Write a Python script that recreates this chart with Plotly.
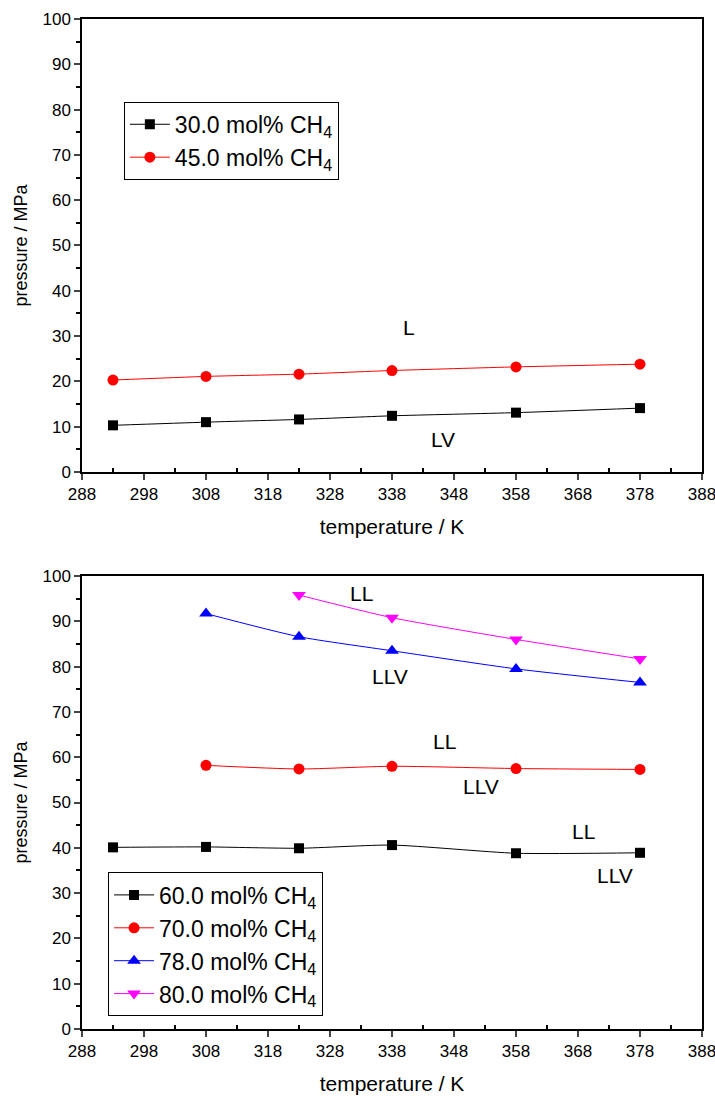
import plotly.graph_objects as go

# Temperatures (K) of the measured points
t_30 = [293, 308, 323, 338, 358, 378]
t_45 = [293, 308, 323, 338, 358, 378]
t_60 = [293, 308, 323, 338, 358, 378]
t_70 = [308, 323, 338, 358, 378]
t_78 = [308, 323, 338, 358, 378]
t_80 = [323, 338, 358, 378]

# Pressures (MPa)
p_30 = [10.3, 11.0, 11.6, 12.4, 13.1, 14.1]
p_45 = [20.3, 21.1, 21.6, 22.4, 23.2, 23.8]
p_60 = [40.1, 40.2, 39.9, 40.6, 38.8, 38.9]
p_70 = [58.2, 57.4, 58.0, 57.5, 57.3]
p_78 = [91.7, 86.6, 83.5, 79.5, 76.5]
p_80 = [95.8, 90.8, 86.0, 81.7]

# Phase-region labels: (text, T, p)
top_labels = [("L", 340.7, 32.0), ("LV", 346.2, 7.1)]
bottom_labels = [("LL", 333.0, 96.2), ("LLV", 337.7, 77.9),
                 ("LL", 346.4, 63.4), ("LLV", 352.3, 53.6),
                 ("LL", 368.9, 43.7), ("LLV", 373.9, 33.8)]

FONT = "Liberation Sans, Arial, sans-serif"

fig = go.Figure()


def series(x, y, name, color, symbol, size, xa, ya, legend):
    fig.add_trace(go.Scatter(
        x=x, y=y, name=name, mode="lines+markers",
        line=dict(color=color, width=1, shape="spline", smoothing=0.6),
        marker=dict(color=color, symbol=symbol, size=size),
        xaxis=xa, yaxis=ya, legend=legend))


series(t_30, p_30, "30.0 mol% CH<sub>4</sub>", "black", "square", 10, "x", "y", "legend")
series(t_45, p_45, "45.0 mol% CH<sub>4</sub>", "red", "circle", 11, "x", "y", "legend")
series(t_60, p_60, "60.0 mol% CH<sub>4</sub>", "black", "square", 10, "x2", "y2", "legend2")
series(t_70, p_70, "70.0 mol% CH<sub>4</sub>", "red", "circle", 11, "x2", "y2", "legend2")
series(t_78, p_78, "78.0 mol% CH<sub>4</sub>", "blue", "triangle-up", 12, "x2", "y2", "legend2")
series(t_80, p_80, "80.0 mol% CH<sub>4</sub>", "magenta", "triangle-down", 12, "x2", "y2", "legend2")

annotations = []
for txt, tx, py in top_labels:
    annotations.append(dict(x=tx, y=py, xref="x", yref="y", text=txt, showarrow=False,
                            font=dict(family=FONT, size=21, color="black")))
for txt, tx, py in bottom_labels:
    annotations.append(dict(x=tx, y=py, xref="x2", yref="y2", text=txt, showarrow=False,
                            font=dict(family=FONT, size=21, color="black")))

xcommon = dict(range=[288, 388], tick0=288, dtick=10, ticks="outside", ticklen=6,
               tickwidth=1.5, showline=True, linewidth=1.5, linecolor="black",
               mirror=True, showgrid=False, zeroline=False, automargin=False,
               ticklabeloverflow="allow",
               tickfont=dict(family=FONT, size=17, color="black"),
               minor=dict(tick0=293, dtick=10, ticks="inside", ticklen=4,
                          tickwidth=1.5, tickcolor="black", showgrid=False),
               title=dict(text="temperature / K", standoff=16,
                          font=dict(family=FONT, size=21, color="black")))
ycommon = dict(range=[0, 100], tick0=0, dtick=10, ticks="outside", ticklen=6,
               tickwidth=1.5, showline=True, linewidth=1.5, linecolor="black",
               mirror=True, showgrid=False, zeroline=False, automargin=False,
               tickfont=dict(family=FONT, size=17, color="black"),
               minor=dict(tick0=5, dtick=10, ticks="outside", ticklen=4,
                          tickwidth=1.5, tickcolor="black", showgrid=False),
               title=dict(text="pressure / MPa", standoff=10,
                          font=dict(family=FONT, size=18, color="black")))

legend_style = dict(bgcolor="white", bordercolor="black", borderwidth=1,
                    font=dict(family=FONT, size=23, color="black"),
                    itemwidth=40, xanchor="left", yanchor="top", tracegroupgap=0)

fig.update_layout(
    width=715, height=1101,
    margin=dict(l=82, r=13, t=19, b=72),
    paper_bgcolor="white", plot_bgcolor="white",
    xaxis=dict(domain=[0, 1], anchor="y", **xcommon),
    yaxis=dict(domain=[0.5515, 1.0], anchor="x", **ycommon),
    xaxis2=dict(domain=[0, 1], anchor="y2", **xcommon),
    yaxis2=dict(domain=[0, 0.4485], anchor="x2", **ycommon),
    legend=dict(x=0.0675, y=0.918, **legend_style),
    legend2=dict(x=0.042, y=0.155, **legend_style),
    annotations=annotations,
)

fig.write_html("out.html")
